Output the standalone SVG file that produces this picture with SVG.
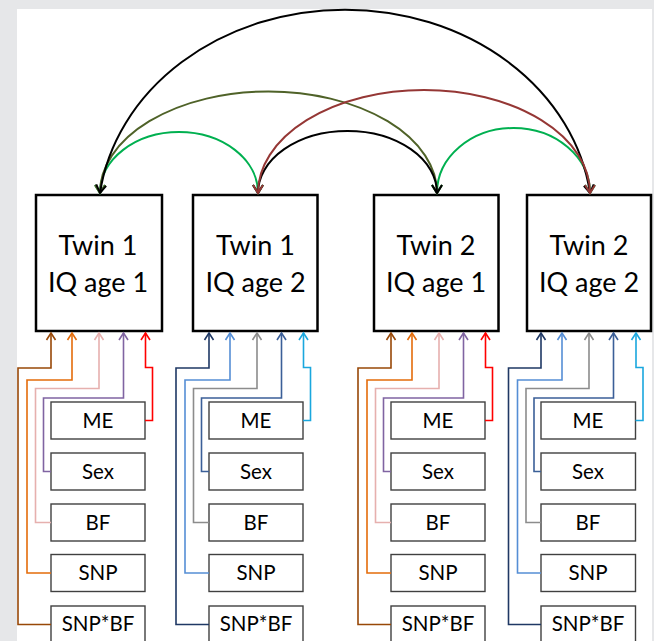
<svg xmlns="http://www.w3.org/2000/svg" width="654" height="641" viewBox="0 0 654 641">
<style>
.big{fill:#fff;stroke:#000;stroke-width:2.5}
.sm{fill:#fff;stroke:#404040;stroke-width:1.4}
.bt{font-family:"Lato","Liberation Sans",sans-serif;font-size:27px;fill:#000;text-anchor:middle}
.st{font-family:"Lato","Liberation Sans",sans-serif;font-size:20.5px;fill:#000;text-anchor:middle}
.arc{fill:none;stroke-width:2}
.cn{fill:none;stroke-width:1.6}
</style>
<defs>
<marker id="m-k" markerUnits="userSpaceOnUse" orient="auto-start-reverse" overflow="visible" markerWidth="1" markerHeight="1"><path d="M-8,-5 L0,0 L-8,5" fill="none" stroke="#000" stroke-width="2"/></marker>
<marker id="m-ol" markerUnits="userSpaceOnUse" orient="auto-start-reverse" overflow="visible" markerWidth="1" markerHeight="1"><path d="M-8,-5 L0,0 L-8,5" fill="none" stroke="#4f6228" stroke-width="2"/></marker>
<marker id="m-rb" markerUnits="userSpaceOnUse" orient="auto-start-reverse" overflow="visible" markerWidth="1" markerHeight="1"><path d="M-8,-5 L0,0 L-8,5" fill="none" stroke="#953735" stroke-width="2"/></marker>
<marker id="m-gr" markerUnits="userSpaceOnUse" orient="auto-start-reverse" overflow="visible" markerWidth="1" markerHeight="1"><path d="M-8,-5 L0,0 L-8,5" fill="none" stroke="#00b050" stroke-width="2"/></marker>
<marker id="m-c1" markerUnits="userSpaceOnUse" orient="auto" overflow="visible" markerWidth="1" markerHeight="1"><path d="M-7,-4.5 L0,0 L-7,4.5" fill="none" stroke="#984807" stroke-width="1.6"/></marker>
<marker id="m-c2" markerUnits="userSpaceOnUse" orient="auto" overflow="visible" markerWidth="1" markerHeight="1"><path d="M-7,-4.5 L0,0 L-7,4.5" fill="none" stroke="#e46c0a" stroke-width="1.6"/></marker>
<marker id="m-c3" markerUnits="userSpaceOnUse" orient="auto" overflow="visible" markerWidth="1" markerHeight="1"><path d="M-7,-4.5 L0,0 L-7,4.5" fill="none" stroke="#e6b0ae" stroke-width="1.6"/></marker>
<marker id="m-c4" markerUnits="userSpaceOnUse" orient="auto" overflow="visible" markerWidth="1" markerHeight="1"><path d="M-7,-4.5 L0,0 L-7,4.5" fill="none" stroke="#8064a2" stroke-width="1.6"/></marker>
<marker id="m-c5" markerUnits="userSpaceOnUse" orient="auto" overflow="visible" markerWidth="1" markerHeight="1"><path d="M-7,-4.5 L0,0 L-7,4.5" fill="none" stroke="#ff0000" stroke-width="1.6"/></marker>
<marker id="m-d1" markerUnits="userSpaceOnUse" orient="auto" overflow="visible" markerWidth="1" markerHeight="1"><path d="M-7,-4.5 L0,0 L-7,4.5" fill="none" stroke="#1f3864" stroke-width="1.6"/></marker>
<marker id="m-d2" markerUnits="userSpaceOnUse" orient="auto" overflow="visible" markerWidth="1" markerHeight="1"><path d="M-7,-4.5 L0,0 L-7,4.5" fill="none" stroke="#558ed5" stroke-width="1.6"/></marker>
<marker id="m-d3" markerUnits="userSpaceOnUse" orient="auto" overflow="visible" markerWidth="1" markerHeight="1"><path d="M-7,-4.5 L0,0 L-7,4.5" fill="none" stroke="#8c8c8c" stroke-width="1.6"/></marker>
<marker id="m-d4" markerUnits="userSpaceOnUse" orient="auto" overflow="visible" markerWidth="1" markerHeight="1"><path d="M-7,-4.5 L0,0 L-7,4.5" fill="none" stroke="#3b5f98" stroke-width="1.6"/></marker>
<marker id="m-d5" markerUnits="userSpaceOnUse" orient="auto" overflow="visible" markerWidth="1" markerHeight="1"><path d="M-7,-4.5 L0,0 L-7,4.5" fill="none" stroke="#1aa7de" stroke-width="1.6"/></marker>
</defs>
<rect x="0" y="0" width="654" height="641" fill="#e6e7e9"/>
<rect x="17" y="9" width="635" height="632" fill="#fff"/>

<g id="t1a1"><rect class="big" x="36" y="195" width="126" height="136"/><text class="bt" x="98" y="254.5">Twin 1</text><text class="bt" x="98" y="292">IQ age 1</text></g>
<g id="t1a2"><rect class="big" x="193" y="195" width="124.5" height="136"/><text class="bt" x="255.5" y="254.5">Twin 1</text><text class="bt" x="255.5" y="292">IQ age 2</text></g>
<g id="t2a1"><rect class="big" x="374" y="195" width="124.5" height="136"/><text class="bt" x="436" y="254.5">Twin 2</text><text class="bt" x="436" y="292">IQ age 1</text></g>
<g id="t2a2"><rect class="big" x="527" y="195" width="124" height="136"/><text class="bt" x="589" y="254.5">Twin 2</text><text class="bt" x="589" y="292">IQ age 2</text></g>

<g id="g1-me"><rect class="sm" x="51" y="402" width="94" height="37"/><text class="st" x="98" y="428">ME</text></g>
<g id="g1-sex"><rect class="sm" x="51" y="453" width="94" height="37"/><text class="st" x="98" y="478.5">Sex</text></g>
<g id="g1-bf"><rect class="sm" x="51" y="504" width="94" height="37"/><text class="st" x="98" y="529.5">BF</text></g>
<g id="g1-snp"><rect class="sm" x="51" y="554.5" width="94" height="37"/><text class="st" x="98" y="580">SNP</text></g>
<g id="g1-snpbf"><rect class="sm" x="51" y="606" width="94" height="37"/><text class="st" x="98" y="631">SNP*BF</text></g>

<g id="g2-me"><rect class="sm" x="209" y="402" width="94" height="37"/><text class="st" x="256" y="428">ME</text></g>
<g id="g2-sex"><rect class="sm" x="209" y="453" width="94" height="37"/><text class="st" x="256" y="478.5">Sex</text></g>
<g id="g2-bf"><rect class="sm" x="209" y="504" width="94" height="37"/><text class="st" x="256" y="529.5">BF</text></g>
<g id="g2-snp"><rect class="sm" x="209" y="554.5" width="94" height="37"/><text class="st" x="256" y="580">SNP</text></g>
<g id="g2-snpbf"><rect class="sm" x="209" y="606" width="94" height="37"/><text class="st" x="256" y="631">SNP*BF</text></g>

<g id="g3-me"><rect class="sm" x="391" y="402" width="94" height="37"/><text class="st" x="438" y="428">ME</text></g>
<g id="g3-sex"><rect class="sm" x="391" y="453" width="94" height="37"/><text class="st" x="438" y="478.5">Sex</text></g>
<g id="g3-bf"><rect class="sm" x="391" y="504" width="94" height="37"/><text class="st" x="438" y="529.5">BF</text></g>
<g id="g3-snp"><rect class="sm" x="391" y="554.5" width="94" height="37"/><text class="st" x="438" y="580">SNP</text></g>
<g id="g3-snpbf"><rect class="sm" x="391" y="606" width="94" height="37"/><text class="st" x="438" y="631">SNP*BF</text></g>

<g id="g4-me"><rect class="sm" x="541" y="402" width="94.5" height="37"/><text class="st" x="588" y="428">ME</text></g>
<g id="g4-sex"><rect class="sm" x="541" y="453" width="94.5" height="37"/><text class="st" x="588" y="478.5">Sex</text></g>
<g id="g4-bf"><rect class="sm" x="541" y="504" width="94.5" height="37"/><text class="st" x="588" y="529.5">BF</text></g>
<g id="g4-snp"><rect class="sm" x="541" y="554.5" width="94.5" height="37"/><text class="st" x="588" y="580">SNP</text></g>
<g id="g4-snpbf"><rect class="sm" x="541" y="606" width="94.5" height="37"/><text class="st" x="588" y="631">SNP*BF</text></g>

<g id="connectors">
<path class="arc" stroke="#00b050" marker-start="url(#m-gr)" marker-end="url(#m-gr)" d="M100,193 A79,61 0 0 1 258,193"/>
<path class="arc" stroke="#00b050" marker-start="url(#m-gr)" marker-end="url(#m-gr)" d="M437,193 A76.5,65 0 0 1 590,193"/>
<path class="arc" stroke="#4f6228" marker-start="url(#m-ol)" marker-end="url(#m-ol)" d="M100,193 A168.5,101.5 0 0 1 437,193"/>
<path class="arc" stroke="#000" marker-start="url(#m-k)" marker-end="url(#m-k)" d="M258,193 A89.5,62 0 0 1 437,193"/>
<path class="arc" stroke="#000" marker-start="url(#m-k)" marker-end="url(#m-k)" d="M100,193 A247,210 0 0 1 590,193"/>
<path class="arc" stroke="#953735" marker-start="url(#m-rb)" marker-end="url(#m-rb)" d="M258,193 A166,103 0 0 1 590,193"/>

<path class="cn" stroke="#984807" marker-end="url(#m-c1)" d="M51,624.5 H18 V368 H51 V333"/>
<path class="cn" stroke="#e46c0a" marker-end="url(#m-c2)" d="M51,573 H27 V380 H72 V333"/>
<path class="cn" stroke="#e6b0ae" marker-end="url(#m-c3)" d="M51,522.5 H35.5 V388.5 H99 V333"/>
<path class="cn" stroke="#8064a2" marker-end="url(#m-c4)" d="M51,471.5 H43.5 V398 H123.5 V333"/>
<path class="cn" stroke="#ff0000" marker-end="url(#m-c5)" d="M145,420.5 H152.5 V367.5 H145.5 V333"/>

<path class="cn" stroke="#1f3864" marker-end="url(#m-d1)" d="M209,624.5 H176 V368 H209 V333"/>
<path class="cn" stroke="#558ed5" marker-end="url(#m-d2)" d="M209,573 H185 V380 H230 V333"/>
<path class="cn" stroke="#8c8c8c" marker-end="url(#m-d3)" d="M209,522.5 H193.5 V388.5 H257 V333"/>
<path class="cn" stroke="#3b5f98" marker-end="url(#m-d4)" d="M209,471.5 H201.5 V398 H281.5 V333"/>
<path class="cn" stroke="#1aa7de" marker-end="url(#m-d5)" d="M303,420.5 H310.5 V367.5 H303.5 V333"/>

<path class="cn" stroke="#984807" marker-end="url(#m-c1)" d="M391,624.5 H358 V368 H391 V333"/>
<path class="cn" stroke="#e46c0a" marker-end="url(#m-c2)" d="M391,573 H367 V380 H412 V333"/>
<path class="cn" stroke="#e6b0ae" marker-end="url(#m-c3)" d="M391,522.5 H375.5 V388.5 H439 V333"/>
<path class="cn" stroke="#8064a2" marker-end="url(#m-c4)" d="M391,471.5 H383.5 V398 H463.5 V333"/>
<path class="cn" stroke="#ff0000" marker-end="url(#m-c5)" d="M485,420.5 H492.5 V367.5 H485.5 V333"/>

<path class="cn" stroke="#1f3864" marker-end="url(#m-d1)" d="M541,624.5 H508.5 V368 H541 V333"/>
<path class="cn" stroke="#558ed5" marker-end="url(#m-d2)" d="M541,573 H517.5 V380 H562 V333"/>
<path class="cn" stroke="#8c8c8c" marker-end="url(#m-d3)" d="M541,522.5 H526 V388.5 H589 V333"/>
<path class="cn" stroke="#3b5f98" marker-end="url(#m-d4)" d="M541,471.5 H534 V398 H613.5 V333"/>
<path class="cn" stroke="#1aa7de" marker-end="url(#m-d5)" d="M635.5,420.5 H643 V367.5 H636 V333"/>
</g>
</svg>
